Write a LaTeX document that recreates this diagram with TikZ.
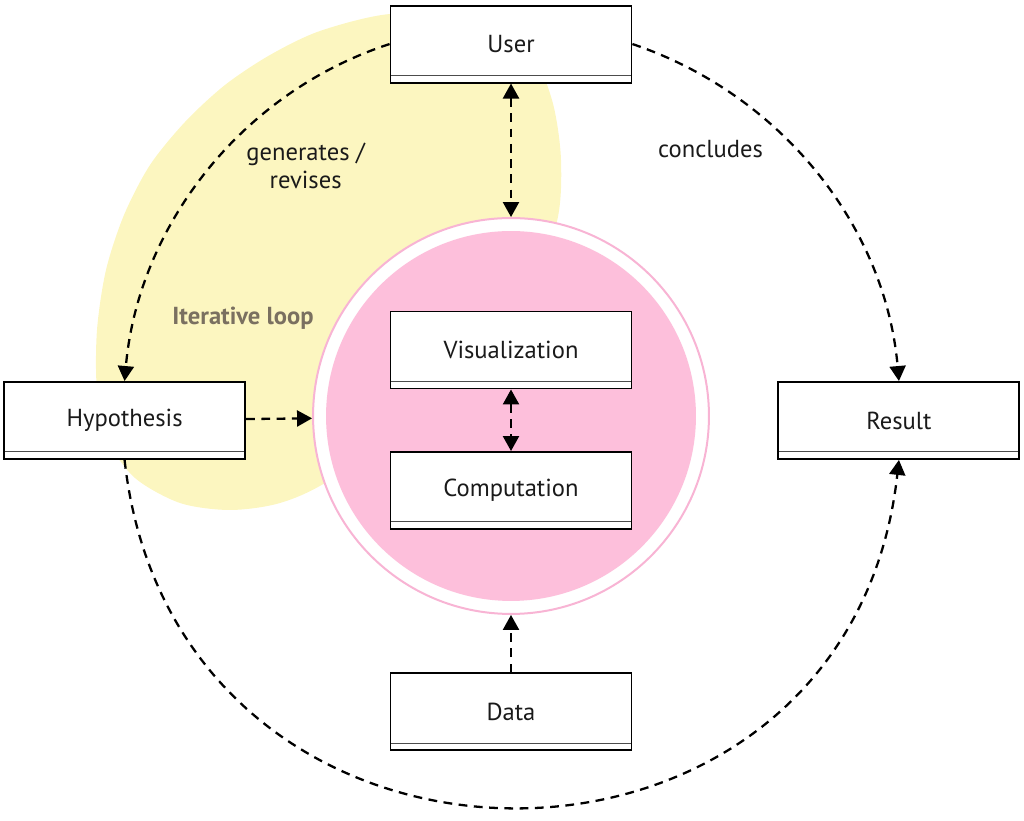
\documentclass[tikz,border=0pt]{standalone}
\usepackage{fontspec}
\setmainfont{PT Sans}
\usetikzlibrary{arrows.meta}

\definecolor{blobyellow}{RGB}{252,246,192}
\definecolor{corepink}{RGB}{253,191,219}
\definecolor{ringpink}{RGB}{248,180,212}
\definecolor{loopgray}{RGB}{122,112,96}
\definecolor{inkblack}{RGB}{26,26,26}

\begin{document}
\begin{tikzpicture}[x=0.02cm, y=0.02cm, auto, node distance=3cm,
    font=\fontsize{14}{16}\selectfont, text=inkblack,
    >={Triangle[length=0.3cm, width=0.32cm]},
    box/.style={draw=black, line width=1.1pt, fill=white,
      minimum width=4.82cm, minimum height=1.54cm,
      path picture={\draw[black!70, line width=0.5pt]
        ([yshift=0.145cm]path picture bounding box.south west) --
        ([yshift=0.145cm]path picture bounding box.south east);}},
    core/.style={circle, draw=ringpink, line width=0.04cm, fill=white,
      minimum size=7.92cm, inner sep=0pt,
      path picture={\fill[corepink] (path picture bounding box.center) circle (3.7cm);}},
    link/.style={->, dash pattern=on 5pt off 3.7pt, line width=1.3pt},
    twoway/.style={link, <->}]
  \useasboundingbox (0,0) rectangle (1024,821);

  \fill[blobyellow] plot[smooth cycle] coordinates {
    (390,807) (470,803) (530,766) (552,721) (561,661) (556,596) (520,521)
    (430,411) (330,341) (280,318) (230,311) (180,318) (135,343) (108,381)
    (97,431) (97,491) (106,551) (124,606) (150,656) (185,699) (225,736)
    (270,766) (320,790)};

  \node[core]          (core)   at (511,405) {};
  \node[box]           (vis)    [node distance=1.32cm, above of=core] {Visualization};
  \node[box]           (comp)   [node distance=2.81cm, below of=vis]  {Computation};
  \node[box]           (user)   [node distance=7.44cm, above of=core] {User};
  \node[box]           (data)   [node distance=5.92cm, below of=core] {Data};
  \node[box]           (hyp)    [node distance=7.73cm, left of=core, yshift=-0.09cm]  {Hypothesis};
  \node[box]           (result) [node distance=7.76cm, right of=core, yshift=-0.09cm] {Result};
  \node[text=loopgray, font=\fontsize{14}{16}\selectfont\bfseries]
                       (loop)   at (243,503) {Iterative loop};

  \path[link] (user.west) edge [out=198, in=85, looseness=0.93]
                node [pos=0.39, align=center] {generates /\\ revises} (hyp.north)
              (user.east) edge [out=-18.6, in=95, looseness=0.93]
                node [pos=0.35, swap, yshift=-0.18cm] {concludes} (result.north)
              (hyp.south) edge [out=-83.7, in=-96.3, looseness=1.54] (result.south)
              (hyp)       edge (core)
              (data)      edge (core)
              ;
  \path[twoway] (user) edge (core)
                (vis)  edge (comp);
\end{tikzpicture}
\end{document}
